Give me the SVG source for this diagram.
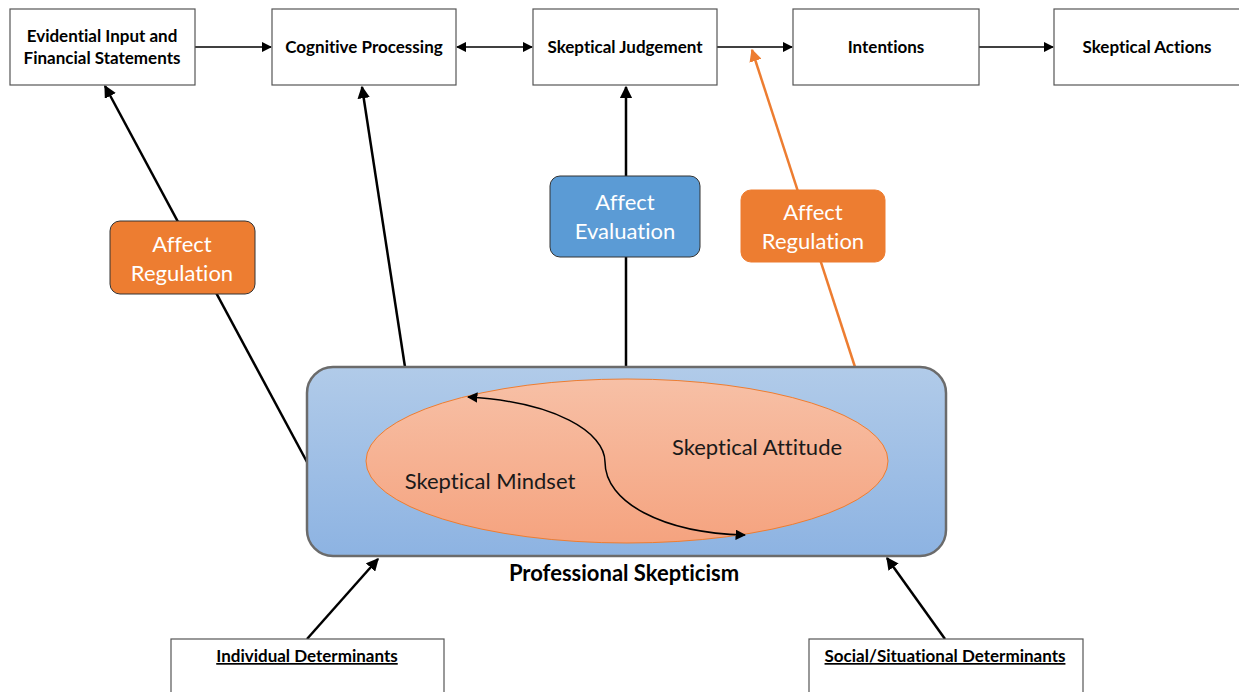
<svg xmlns="http://www.w3.org/2000/svg" width="1239" height="692" viewBox="0 0 1239 692">
<defs>
<linearGradient id="gBlue" x1="0" y1="0" x2="0" y2="1"><stop offset="0" stop-color="#b1cbe9"/><stop offset="1" stop-color="#8db3e2"/></linearGradient>
<linearGradient id="gOr" x1="0" y1="0" x2="0" y2="1"><stop offset="0" stop-color="#f7c0a6"/><stop offset="1" stop-color="#f5a37f"/></linearGradient>
<marker id="ah" viewBox="0 0 10 10" refX="9" refY="5" markerWidth="5" markerHeight="5" orient="auto-start-reverse"><path d="M0,0 L10,5 L0,10 z" fill="#000"/></marker>
<marker id="ahs" viewBox="0 0 10 10" refX="9" refY="5" markerWidth="7" markerHeight="7" orient="auto-start-reverse"><path d="M0,0 L10,5 L0,10 z" fill="#000"/></marker>
<marker id="aho" viewBox="0 0 10 10" refX="9" refY="5" markerWidth="5" markerHeight="5" orient="auto"><path d="M0,0 L10,5 L0,10 z" fill="#ed7d31"/></marker>
</defs>
<style>
text{font-variant-ligatures:none}
.box{fill:#fff;stroke:#555;stroke-width:1.2}
.t{font-family:Lato,"Liberation Sans",sans-serif;font-weight:bold;font-size:17px;fill:#000;text-anchor:middle}
.w{font-family:Lato,"Liberation Sans",sans-serif;font-size:22px;fill:#fff;text-anchor:middle}
.d{font-family:Lato,"Liberation Sans",sans-serif;font-size:22px;fill:#1a1a1a;text-anchor:middle}
.ln{stroke:#000;stroke-width:2.5;fill:none}
.th{stroke:#000;stroke-width:1.5;fill:none}
</style>
<g id="connectors">
<line class="th" x1="195" y1="47" x2="271" y2="47" marker-end="url(#ahs)"/>
<line class="th" x1="457" y1="47" x2="532" y2="47" marker-start="url(#ahs)" marker-end="url(#ahs)"/>
<line class="th" x1="717" y1="47" x2="792" y2="47" marker-end="url(#ahs)"/>
<line class="th" x1="979" y1="47" x2="1053" y2="47" marker-end="url(#ahs)"/>
<line class="ln" x1="307" y1="462" x2="105" y2="86" marker-end="url(#ah)"/>
<line class="ln" x1="405" y1="367" x2="362" y2="87" marker-end="url(#ah)"/>
<line class="ln" x1="626" y1="367" x2="626" y2="87" marker-end="url(#ah)"/>
<line x1="855" y1="367" x2="752" y2="50" stroke="#ed7d31" stroke-width="2.5" marker-end="url(#aho)"/>
<line class="ln" x1="307" y1="639" x2="378" y2="559" marker-end="url(#ah)"/>
<line class="ln" x1="945" y1="639" x2="887" y2="558" marker-end="url(#ah)"/>
</g>
<g id="n-evidential"><rect class="box" x="10" y="9" width="185" height="76"/><text class="t" x="102" y="42">Evidential Input and</text><text class="t" x="102" y="64">Financial Statements</text></g>
<g id="n-cognitive"><rect class="box" x="272" y="9" width="184" height="76"/><text class="t" x="364" y="53">Cognitive Processing</text></g>
<g id="n-judgement"><rect class="box" x="533" y="9" width="184" height="76"/><text class="t" x="625" y="53">Skeptical Judgement</text></g>
<g id="n-intentions"><rect class="box" x="793" y="9" width="186" height="76"/><text class="t" x="886" y="53">Intentions</text></g>
<g id="n-actions"><rect class="box" x="1054" y="9" width="190" height="76"/><text class="t" x="1147" y="53">Skeptical Actions</text></g>
<g id="n-affect-reg-left"><rect x="110" y="221" width="145" height="73" rx="10" fill="#ed7d31" stroke="#333" stroke-width="1"/><text class="w" x="182" y="252">Affect</text><text class="w" x="182" y="281">Regulation</text></g>
<g id="n-affect-eval"><rect x="550" y="176" width="150" height="81" rx="10" fill="#5b9bd5" stroke="#333" stroke-width="1"/><text class="w" x="625" y="210">Affect</text><text class="w" x="625" y="239">Evaluation</text></g>
<g id="n-affect-reg-right"><rect x="741" y="190" width="144" height="72" rx="10" fill="#ed7d31" stroke="#ed7d31" stroke-width="1"/><text class="w" x="813" y="220">Affect</text><text class="w" x="813" y="249">Regulation</text></g>
<g id="n-professional">
<rect x="307" y="367" width="639" height="189" rx="26" fill="url(#gBlue)" stroke="#6b6b6b" stroke-width="2.5"/>
<ellipse cx="627" cy="461" rx="261" ry="82" fill="url(#gOr)" stroke="#ed7d31" stroke-width="1"/>
<path d="M468,397 C555,402 605,432 605,462 C605,502 662,533 745,535" class="th" marker-start="url(#ahs)" marker-end="url(#ahs)"/>
<text class="d" x="490" y="489">Skeptical Mindset</text>
<text class="d" x="757" y="455">Skeptical Attitude</text>
<text class="t" x="624" y="581" style="font-size:22px">Professional Skepticism</text>
</g>
<g id="n-individual"><rect class="box" x="171" y="639" width="273" height="60"/><text class="t" x="307" y="662" text-decoration="underline">Individual Determinants</text></g>
<g id="n-social"><rect class="box" x="809" y="639" width="274" height="60"/><text class="t" x="945" y="662" text-decoration="underline">Social/Situational Determinants</text></g>
</svg>
